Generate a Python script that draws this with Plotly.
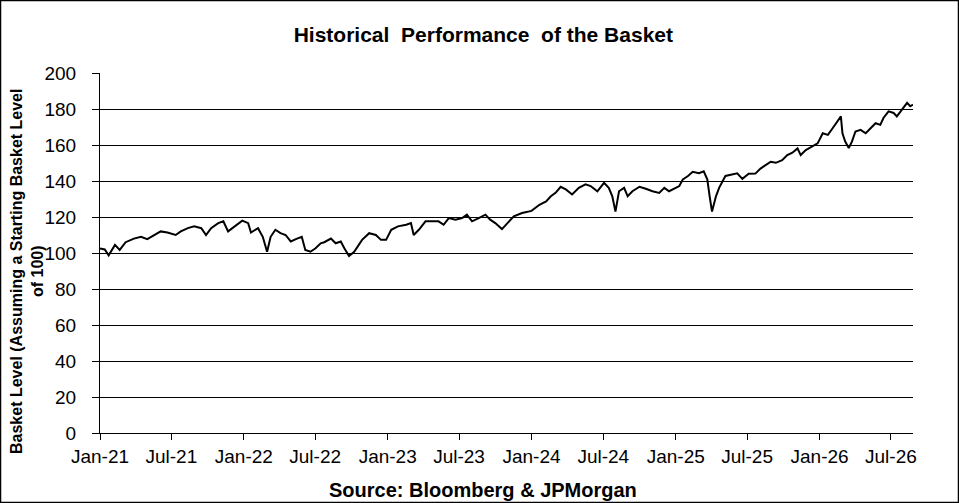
import plotly.graph_objects as go

# basket level (roughly every two weeks, plus the sharp dips)
dates = [
    "2021-01-01", "2021-01-13", "2021-01-23", "2021-02-08", "2021-02-20", "2021-03-07",
    "2021-03-28", "2021-04-15", "2021-05-01", "2021-05-19", "2021-06-04", "2021-06-21",
    "2021-07-12", "2021-07-25", "2021-08-12", "2021-08-28", "2021-09-15", "2021-09-27",
    "2021-10-10", "2021-10-28", "2021-11-10", "2021-11-22", "2021-12-08", "2021-12-28",
    "2022-01-12", "2022-01-19", "2022-02-06", "2022-02-18", "2022-03-01", "2022-03-10",
    "2022-03-22", "2022-04-04", "2022-04-17", "2022-04-30", "2022-05-16", "2022-05-28",
    "2022-06-06", "2022-06-19", "2022-07-02", "2022-07-15", "2022-07-24", "2022-08-10",
    "2022-08-22", "2022-09-04", "2022-09-13", "2022-09-25", "2022-10-08", "2022-10-28",
    "2022-11-15", "2022-12-02", "2022-12-15", "2022-12-28", "2023-01-10", "2023-01-27",
    "2023-02-17", "2023-03-01", "2023-03-08", "2023-03-21", "2023-04-07", "2023-04-24",
    "2023-05-10", "2023-05-23", "2023-06-05", "2023-06-22", "2023-07-09", "2023-07-21",
    "2023-08-03", "2023-08-20", "2023-09-06", "2023-09-18", "2023-10-01", "2023-10-18",
    "2023-11-05", "2023-11-17", "2023-12-08", "2023-12-20", "2024-01-01", "2024-01-21",
    "2024-02-07", "2024-02-19", "2024-03-02", "2024-03-15", "2024-03-28", "2024-04-13",
    "2024-04-30", "2024-05-17", "2024-05-30", "2024-06-16", "2024-07-03", "2024-07-15",
    "2024-07-24", "2024-08-01", "2024-08-10", "2024-08-23", "2024-09-01", "2024-09-13",
    "2024-10-01", "2024-10-17", "2024-11-03", "2024-11-20", "2024-12-03", "2024-12-15",
    "2024-12-28", "2025-01-10", "2025-01-19", "2025-02-01", "2025-02-13", "2025-03-01",
    "2025-03-13", "2025-03-22", "2025-03-28", "2025-04-03", "2025-04-13", "2025-04-21",
    "2025-05-07", "2025-05-24", "2025-06-06", "2025-06-19", "2025-07-05", "2025-07-22",
    "2025-08-04", "2025-08-17", "2025-08-30", "2025-09-12", "2025-09-28", "2025-10-11",
    "2025-10-24", "2025-11-06", "2025-11-14", "2025-11-27", "2025-12-14", "2025-12-27",
    "2026-01-09", "2026-01-22", "2026-02-03", "2026-02-16", "2026-02-24", "2026-02-28",
    "2026-03-07", "2026-03-16", "2026-03-24", "2026-04-02", "2026-04-15", "2026-04-28",
    "2026-05-10", "2026-05-23", "2026-06-04", "2026-06-12", "2026-06-25", "2026-07-08",
    "2026-07-16", "2026-07-29", "2026-08-11", "2026-08-19", "2026-08-26",
]
levels = [
    102.5, 102.0, 98.7, 104.5, 101.7, 106.0,
    108.0, 109.0, 107.7, 110.0, 112.0, 111.4,
    110.0, 112.0, 113.8, 114.8, 113.8, 110.0,
    113.8, 116.6, 117.6, 112.0, 114.8, 118.0,
    116.6, 111.4, 113.8, 109.0, 100.7, 109.0,
    112.9, 111.0, 110.0, 106.4, 108.0, 109.0,
    101.7, 100.7, 102.6, 105.4, 106.0, 108.0,
    105.4, 106.4, 102.6, 98.3, 100.7, 107.3,
    111.0, 110.0, 107.3, 107.3, 112.9, 114.8,
    115.7, 116.6, 110.0, 112.9, 117.6, 117.6,
    117.6, 115.7, 119.4, 118.5, 119.4, 121.3,
    117.6, 119.4, 121.3, 118.5, 116.6, 113.3,
    117.6, 120.4, 122.2, 123.0, 123.4, 126.8,
    128.7, 131.5, 133.4, 136.8, 135.3, 132.5,
    136.2, 138.1, 137.2, 134.3, 139.0, 136.2,
    131.5, 123.0, 134.3, 136.2, 131.5, 134.3,
    136.8, 135.7, 134.3, 133.4, 136.2, 134.3,
    135.7, 137.2, 140.9, 142.8, 145.1, 144.3,
    145.4, 140.9, 131.5, 123.0, 131.5, 136.2,
    142.8, 143.8, 144.3, 141.2, 144.0, 144.1,
    146.9, 148.8, 150.7, 150.1, 151.6, 154.4,
    155.7, 158.1, 154.4, 157.2, 159.1, 160.9,
    166.5, 165.6, 169.3, 173.1, 175.9, 166.5,
    161.9, 158.3, 161.9, 167.5, 168.4, 166.5,
    169.3, 172.1, 171.2, 175.0, 178.7, 177.8,
    175.9, 179.6, 183.4, 181.5, 182.4,
]

tick_dates = ["2021-01-01", "2021-07-01", "2022-01-01", "2022-07-01", "2023-01-01", "2023-07-01",
              "2024-01-01", "2024-07-01", "2025-01-01", "2025-07-01", "2026-01-01", "2026-07-01"]
tick_labels = ["Jan-21", "Jul-21", "Jan-22", "Jul-22", "Jan-23", "Jul-23",
               "Jan-24", "Jul-24", "Jan-25", "Jul-25", "Jan-26", "Jul-26"]

W, H = 959, 503
ML, MR, MT, MB = 100, 46, 73, 70
pw, ph = W - ML - MR, H - MT - MB
FONT = "Liberation Sans, Arial, sans-serif"

fig = go.Figure()
fig.add_trace(go.Scatter(x=dates, y=levels, mode="lines",
                         line=dict(color="black", width=2), showlegend=False))

fig.update_layout(
    width=W, height=H,
    margin=dict(l=ML, r=MR, t=MT, b=MB, autoexpand=False),
    paper_bgcolor="white", plot_bgcolor="white",
    font=dict(family=FONT, color="black", size=19),
    title=dict(text="<b>Historical  Performance  of the Basket</b>",
               x=0.504, xref="container", xanchor="center",
               y=1 - 35 / H, yref="container", yanchor="middle",
               font=dict(size=21, family=FONT)),
)

fig.update_xaxes(
    type="date", range=["2021-01-01", "2026-08-26"],
    tickvals=tick_dates, ticktext=tick_labels,
    ticks="outside", ticklen=6, tickwidth=1, tickcolor="black",
    showline=True, linecolor="black", linewidth=1,
    showgrid=False, zeroline=False, automargin=False,
    tickfont=dict(size=19), ticklabelstandoff=0,
)
fig.update_yaxes(
    range=[0, 200], dtick=20,
    ticks="outside", ticklen=7, tickwidth=1, tickcolor="black",
    showline=True, linecolor="black", linewidth=1,
    showgrid=True, gridcolor="black", gridwidth=1, zeroline=False,
    automargin=False,
    tickfont=dict(size=19), ticklabelstandoff=12,
)

# y-axis title as a rotated note, so it can sit where the original has it
fig.add_annotation(text="<b>Basket Level (Assuming a Starting Basket Level<br>of 100)</b>",
                   xref="paper", yref="paper",
                   x=(27 - ML) / pw, y=(MT + ph - 272) / ph,
                   xanchor="center", yanchor="middle", textangle=-90,
                   showarrow=False, font=dict(size=16, family=FONT))

# source line under the axis, centred on the figure
fig.add_annotation(text="<b>Source: Bloomberg & JPMorgan</b>",
                   xref="paper", yref="paper",
                   x=(483 - ML) / pw, y=-(490 - MT - ph) / ph,
                   xanchor="center", yanchor="middle",
                   showarrow=False, font=dict(size=20, family=FONT))

# thin frame around the whole picture
fig.add_shape(type="rect", xref="paper", yref="paper",
              x0=(0.5 - ML) / pw, x1=(W - 0.5 - ML) / pw,
              y0=-(MB - 0.5) / ph, y1=1 + (MT - 0.5) / ph,
              line=dict(color="black", width=1.5), fillcolor="rgba(0,0,0,0)")

fig.write_html("out.html", config={"displayModeBar": False})

# drop the browser's default page margin so the figure sits at the window corner
with open("out.html", encoding="utf-8") as f:
    page = f.read()
page = page.replace("<body>", '<body style="margin:0;overflow:hidden">', 1)
with open("out.html", "w", encoding="utf-8") as f:
    f.write(page)
